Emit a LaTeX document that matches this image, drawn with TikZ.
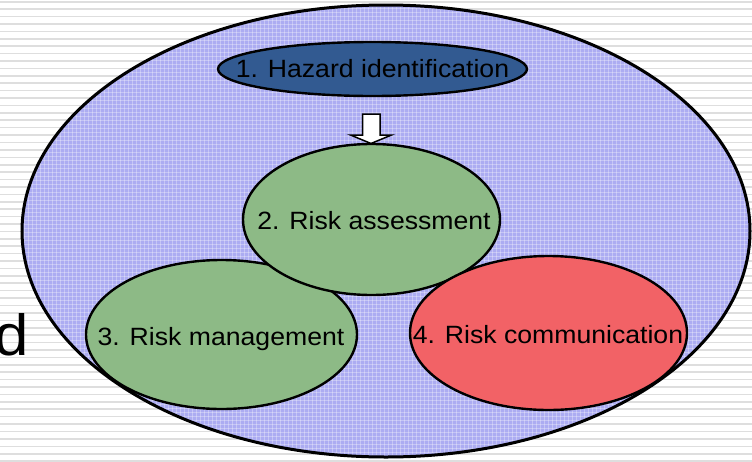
\documentclass[tikz,border=0pt]{standalone}
\usepackage{fontspec}
\setmainfont[FakeStretch=1.065]{Liberation Sans}
\usetikzlibrary{shapes.geometric}
\definecolor{outerblue}{RGB}{172,172,242}
\definecolor{hazblue}{RGB}{50,90,145}
\definecolor{riskgreen}{RGB}{141,186,134}
\definecolor{riskred}{RGB}{242,98,102}
\definecolor{stripe}{RGB}{222,222,222}
\begin{document}
\begin{tikzpicture}[x=1pt,y=-1pt,
  bubble/.style={ellipse, draw=black, line width=2.4pt, inner sep=0pt},
  lbl/.style={anchor=base, inner sep=0pt, text=black, font=\fontsize{25}{30}\selectfont},
]
\useasboundingbox (0,0) rectangle (752,461);
\clip (0,0) rectangle (752,461);
\fill[white] (0,0) rectangle (752,461);
\foreach \i in {0,...,62} \draw[stripe, line width=1.6pt] (0,1.7+7.41*\i) -- (752,1.7+7.41*\i);
% partial slide text at left
\node[anchor=base west, inner sep=0pt, font=\fontsize{58}{60}\selectfont] (dtext) at (-6,355) {d};
% outer ellipse
\node[bubble, line width=3pt, fill=outerblue, minimum width=728pt, minimum height=452pt] (outer) at (386,231) {};
\begin{scope}
  \clip (386,231) ellipse [x radius=362, y radius=224];
  \foreach \k in {0,...,190} {
    \draw[white, opacity=0.3, line width=1pt] (4*\k,0) -- (4*\k,461);
  }
  \foreach \k in {0,...,116} {
    \draw[white, opacity=0.3, line width=1pt] (0,4*\k) -- (752,4*\k);
  }
\end{scope}
% 1. Hazard identification
\node[bubble, fill=hazblue, minimum width=309pt, minimum height=54pt] (haz) at (372.5,69) {};
\node[lbl] (hazt) at (372.5,77.3) {1. Hazard identification};
% block arrow
\draw[fill=white, draw=black, line width=1.5pt, line join=miter]
  (362.7,114) -- (380,114) -- (380,135) -- (391.5,135) -- (371,143.5) -- (350.5,135) -- (362.7,135) -- cycle;
% 3. Risk management
\node[bubble, fill=riskgreen, minimum width=271pt, minimum height=149pt] (mgmt) at (221.5,334.5) {};
% 2. Risk assessment
\node[bubble, fill=riskgreen, minimum width=257pt, minimum height=151pt] (assess) at (371.5,219.5) {};
% 4. Risk communication
\node[bubble, fill=riskred, minimum width=277pt, minimum height=154pt] (comm) at (548.5,333) {};
\node[lbl] (assesst) at (374,229.3) {2. Risk assessment};
\node[lbl] (mgmtt) at (221,345.7) {3. Risk management};
\node[lbl] (commt) at (548,343.3) {4. Risk communication};
\end{tikzpicture}
\end{document}
